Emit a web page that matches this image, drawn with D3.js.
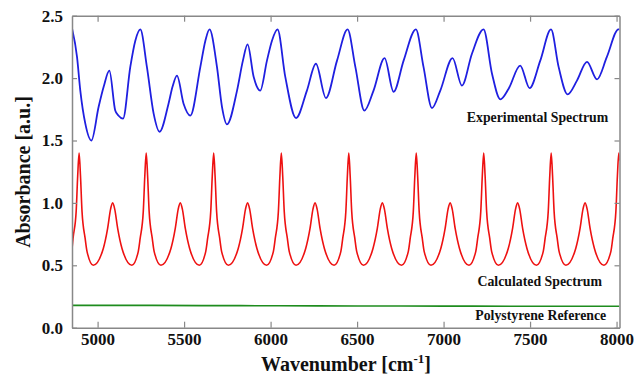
<!DOCTYPE html>
<html>
<head>
<meta charset="utf-8">
<script src="https://cdn.jsdelivr.net/npm/d3@7"></script>
<style>
  body { margin: 0; background: #fff; }
  svg text { font-family: "Liberation Serif", "Times New Roman", serif; font-weight: bold; fill: #111; }
</style>
</head>
<body>
<svg id="chart"></svg>
<script>
// tick values
const xTicks = [5000, 5500, 6000, 6500, 7000, 7500, 8000];
const yTicks = [0, 0.5, 1.0, 1.5, 2.0, 2.5];

// experimental spectrum [wavenumber, absorbance]
const experimental = [
  [4852,2.40],[4881,2.17],[4900,1.90],[4929,1.635],[4964,1.50],[5006,1.77],[5035,1.93],[5068,2.06],
  [5102,1.74],[5120,1.70],[5147,1.675],[5189,2.09],[5218,2.30],[5247,2.39],[5285,2.09],[5324,1.715],
  [5358,1.57],[5410,1.795],[5433,1.93],[5459,2.02],[5497,1.795],[5536,1.70],[5594,2.09],[5623,2.30],
  [5647,2.39],[5690,2.09],[5719,1.77],[5748,1.63],[5806,1.90],[5840,2.14],[5867,2.27],[5902,2.01],
  [5940,1.90],[5979,2.14],[6008,2.30],[6040,2.39],[6085,2.01],[6147,1.68],[6210,1.90],[6262,2.115],
  [6320,1.84],[6384,2.14],[6445,2.39],[6490,2.09],[6542,1.74],[6595,1.90],[6659,2.16],[6711,1.89],
  [6769,2.14],[6840,2.39],[6884,2.09],[6933,1.76],[6981,1.90],[7052,2.16],[7106,1.94],[7164,2.195],
  [7231,2.39],[7280,2.035],[7328,1.83],[7376,1.915],[7443,2.10],[7497,1.92],[7559,2.14],[7621,2.39],
  [7665,2.09],[7717,1.87],[7771,1.98],[7829,2.13],[7887,1.99],[7944,2.17],[8011,2.39],[8017,2.39]
];

// calculated spectrum [wavenumber, absorbance]
const calculated = [
  [4852,0.63],[4858,0.715],[4876,0.93],[4885,1.22],[4893,1.40],[4901,1.22],[4910,0.93],[4928,0.715],[4939,0.61],[4975,0.5],
  [5033,0.635],[5058,0.795],[5075,0.95],[5087,1.0],[5099,0.95],[5116,0.795],[5141,0.635],[5198,0.5],
  [5235,0.61],[5246,0.715],[5264,0.93],[5273,1.22],[5281,1.40],[5289,1.22],[5298,0.93],[5316,0.715],[5327,0.61],[5366,0.5],
  [5424,0.635],[5449,0.795],[5466,0.95],[5478,1.0],[5490,0.95],[5507,0.795],[5532,0.635],[5588,0.5],
  [5625,0.61],[5636,0.715],[5654,0.93],[5663,1.22],[5671,1.40],[5679,1.22],[5688,0.93],[5706,0.715],[5717,0.61],[5756,0.5],
  [5813,0.635],[5838,0.795],[5855,0.95],[5867,1.0],[5879,0.95],[5896,0.795],[5921,0.635],[5977,0.5],
  [6016,0.61],[6027,0.715],[6045,0.93],[6054,1.22],[6062,1.40],[6070,1.22],[6079,0.93],[6097,0.715],[6108,0.61],[6147,0.5],
  [6203,0.635],[6228,0.795],[6245,0.95],[6257,1.0],[6269,0.95],[6286,0.795],[6311,0.635],[6367,0.5],
  [6406,0.61],[6417,0.715],[6435,0.93],[6444,1.22],[6452,1.40],[6460,1.22],[6469,0.93],[6487,0.715],[6498,0.61],[6537,0.5],
  [6592,0.635],[6617,0.795],[6634,0.95],[6646,1.0],[6658,0.95],[6675,0.795],[6700,0.635],[6757,0.5],
  [6796,0.61],[6807,0.715],[6825,0.93],[6834,1.22],[6842,1.40],[6850,1.22],[6859,0.93],[6877,0.715],[6888,0.61],[6927,0.5],
  [6984,0.635],[7009,0.795],[7026,0.95],[7038,1.0],[7050,0.95],[7067,0.795],[7092,0.635],[7147,0.5],
  [7186,0.61],[7197,0.715],[7215,0.93],[7224,1.22],[7232,1.40],[7240,1.22],[7249,0.93],[7267,0.715],[7278,0.61],[7317,0.5],
  [7374,0.635],[7399,0.795],[7416,0.95],[7428,1.0],[7440,0.95],[7457,0.795],[7482,0.635],[7537,0.5],
  [7576,0.61],[7587,0.715],[7605,0.93],[7614,1.22],[7622,1.40],[7630,1.22],[7639,0.93],[7657,0.715],[7668,0.61],[7707,0.5],
  [7764,0.635],[7789,0.795],[7806,0.95],[7818,1.0],[7830,0.95],[7847,0.795],[7872,0.635],[7927,0.5],
  [7967,0.61],[7978,0.715],[7996,0.93],[8005,1.22],[8013,1.40],[8017,1.34]
];

// polystyrene reference [wavenumber, absorbance]
const reference = [
  [4852,0.179],[5150,0.179],[5600,0.177],[6050,0.176],[6500,0.174],[7000,0.173],[7500,0.172],[8017,0.172]
];

// series labels [text, wavenumber, absorbance]
const labels = [
  ["Experimental Spectrum", 7952, 1.69],
  ["Calculated Spectrum", 7916, 0.37],
  ["Polystyrene Reference", 7940, 0.10]
];

const w = 642;
const h = 375;
const mLeft = 72, mRight = 619.5, mTop = 15.7, mBottom = 327.7;

const svg = d3.select('#chart').attr('width', w).attr('height', h);

const xScale = d3.scaleLinear().domain([4852, 8017]).range([mLeft, mRight]);
const yScale = d3.scaleLinear().domain([0, 2.5]).range([mBottom, mTop]);

svg.append('clipPath').attr('id', 'clip')
  .append('rect').attr('x', mLeft).attr('y', mTop).attr('width', mRight - mLeft).attr('height', mBottom - mTop);

const line = d3.line()
  .x(d => xScale(d[0]))
  .y(d => yScale(d[1]))
  .curve(d3.curveMonotoneX);

const plot = svg.append('g').attr('clip-path', 'url(#clip)');

plot.append('path').datum(reference)
  .attr('d', line).attr('fill', 'none').attr('stroke', '#1e8c1e').attr('stroke-width', 1.6);
plot.append('path').datum(calculated)
  .attr('d', line).attr('fill', 'none').attr('stroke', '#ee1111').attr('stroke-width', 1.6);
plot.append('path').datum(experimental)
  .attr('d', line).attr('fill', 'none').attr('stroke', '#1f1fe0').attr('stroke-width', 1.8);

// axes with inward ticks
const styleAxis = g => {
  g.selectAll('.domain').attr('stroke', '#888').attr('stroke-width', 1.5);
  g.selectAll('.tick line').attr('stroke', '#888').attr('stroke-width', 1.2);
  g.selectAll('text').attr('font-size', 17).attr('fill', '#111')
    .attr('font-family', '"Liberation Serif", "Times New Roman", serif').attr('font-weight', 'bold');
};

svg.append('g')
  .attr('transform', `translate(0,${mBottom})`)
  .call(d3.axisBottom(xScale).tickValues(xTicks).tickSizeInner(-6).tickSizeOuter(0).tickPadding(5).tickFormat(d3.format('d')))
  .call(styleAxis);

svg.append('g')
  .attr('transform', `translate(0,${mTop})`)
  .call(d3.axisTop(xScale).tickValues(xTicks).tickSizeInner(-6).tickSizeOuter(0).tickFormat(''))
  .call(styleAxis);

svg.append('g')
  .attr('transform', `translate(${mLeft},0)`)
  .call(d3.axisLeft(yScale).tickValues(yTicks).tickSizeInner(-5).tickSizeOuter(0).tickPadding(9).tickFormat(d3.format('.1f')))
  .call(styleAxis);

svg.append('g')
  .attr('transform', `translate(${mRight},0)`)
  .call(d3.axisRight(yScale).tickValues(yTicks).tickSizeInner(-5).tickSizeOuter(0).tickFormat(''))
  .call(styleAxis);

// series labels
svg.selectAll('.series-label')
  .data(labels)
  .enter()
  .append('text')
  .attr('class', 'series-label')
  .attr('x', d => xScale(d[1]))
  .attr('y', d => yScale(d[2]))
  .attr('dy', '0.35em')
  .attr('text-anchor', 'end')
  .attr('font-size', 13.8)
  .text(d => d[0]);

// axis titles
const xTitle = svg.append('text')
  .attr('x', 346)
  .attr('y', 371)
  .attr('text-anchor', 'middle')
  .attr('font-size', 20);
xTitle.append('tspan').text('Wavenumber [cm');
xTitle.append('tspan').attr('font-size', 13).attr('dy', -8).text('-1');
xTitle.append('tspan').attr('dy', 8).text(']');

svg.append('text')
  .attr('transform', 'translate(30,172) rotate(-90)')
  .attr('text-anchor', 'middle')
  .attr('font-size', 20)
  .text('Absorbance [a.u.]');
</script>
</body>
</html>
